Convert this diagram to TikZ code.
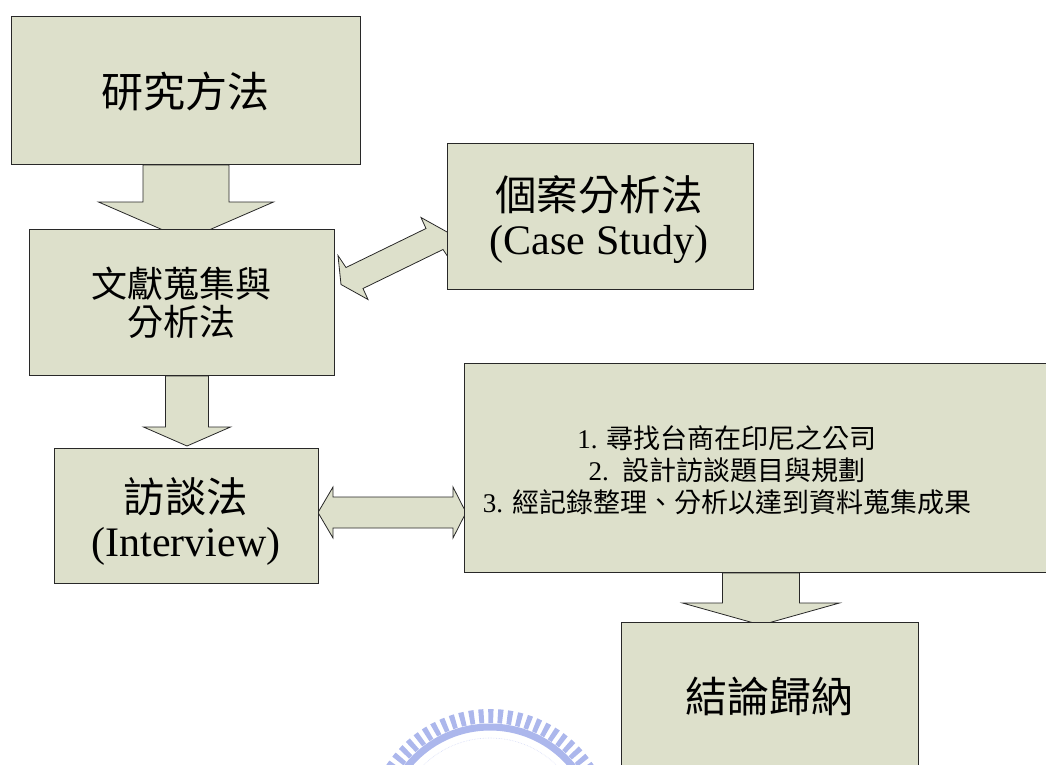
\documentclass[tikz,border=0pt]{standalone}
\usepackage{fontspec}
\setmainfont{Liberation Serif}
\newfontfamily\cjk{Noto Sans CJK TC}
\usetikzlibrary{calc}
\definecolor{boxfill}{RGB}{221,224,203}
\definecolor{boxline}{RGB}{40,40,40}
\definecolor{wmark}{RGB}{172,183,236}
\tikzset{
  box/.style={draw=boxline, fill=boxfill, line width=1pt, rectangle, inner sep=0pt, anchor=north west},
  blockarrow/.style={draw=boxline, fill=boxfill, line width=0.8pt, line join=miter},
  lbl/.style={align=center, inner sep=0pt, text=black},
  big/.style={font=\fontsize{42}{44}\selectfont}
}
\begin{document}
\begin{tikzpicture}[x=1pt,y=-1pt]
\useasboundingbox (0,0) rectangle (1046,765);
\clip (0,0) rectangle (1046,765);

% faint watermark
\draw[wmark, line width=7pt] (490,833) circle (106pt);
\draw[wmark, line width=14pt, dash pattern=on 5pt off 4.5pt] (490,833) circle (117pt);
\draw[wmark!50, line width=0.6pt, densely dotted] (490,833) circle (95pt);

% coordinates of boxes
\coordinate (p1) at (11,16);
\coordinate (p2) at (29,229);
\coordinate (p3) at (447,143);
\coordinate (p4) at (54,448);
\coordinate (p5) at (464,363);
\coordinate (p6) at (621,622);

% invisible nodes first to have anchors for arrows
\path (p1) node[box, draw=none, fill=none, minimum width=349pt, minimum height=148pt] (b1) {};
\path (p2) node[box, draw=none, fill=none, minimum width=305pt, minimum height=146pt] (b2) {};
\path (p3) node[box, draw=none, fill=none, minimum width=306pt, minimum height=146pt] (b3) {};
\path (p4) node[box, draw=none, fill=none, minimum width=264pt, minimum height=135pt] (b4) {};
\path (p5) node[box, draw=none, fill=none, minimum width=593pt, minimum height=209pt] (b5) {};
\path (p6) node[box, draw=none, fill=none, minimum width=297pt, minimum height=160pt] (b6) {};

% block arrows (drawn below boxes)
\draw[blockarrow, shift={(b1.south)}]
  (-43,0) -- (-43,37) -- (-87.5,37) -- (0,75) -- (87.5,37) -- (43,37) -- (43,0) -- cycle;
\draw[blockarrow, shift={($(b2.south)+(5,0)$)}]
  (-21.5,0) -- (-21.5,51) -- (-43.5,51) -- (0,70) -- (43.5,51) -- (21.5,51) -- (21.5,0) -- cycle;
\draw[blockarrow, shift={(b5.south)}]
  (-38.5,0) -- (-38.5,30) -- (-78.5,30) -- (0,52) -- (78.5,30) -- (38.5,30) -- (38.5,0) -- cycle;
\draw[blockarrow, shift={($(b4.east)+(0,-3.5)$)}]
  (-1,0) -- (14,-25.5) -- (14,-15.5) -- (134,-15.5) -- (134,-25.5) -- (147,0)
  -- (134,25.5) -- (134,15.5) -- (14,15.5) -- (14,25.5) -- cycle;
\draw[blockarrow, shift={($(b2.east)+(59.5,-44)$)}]
  (-53.5,26) -- (-56.5,-3) -- (-48.5,9) -- (31.5,-30) -- (26.5,-41) -- (53.5,-26)
  -- (56.5,3) -- (48.5,-9) -- (-31.5,30) -- (-26.5,41) -- cycle;

% visible boxes
\node[box, minimum width=349pt, minimum height=148pt] (v1) at (p1) {};
\node[box, minimum width=305pt, minimum height=146pt] (v2) at (p2) {};
\node[box, minimum width=306pt, minimum height=146pt] (v3) at (p3) {};
\node[box, minimum width=264pt, minimum height=135pt] (v4) at (p4) {};
\node[box, minimum width=593pt, minimum height=209pt] (v5) at (p5) {};
\node[box, minimum width=297pt, minimum height=160pt] (v6) at (p6) {};

% texts
\node[lbl, big] (t1) at (185.5,91) {{\cjk 研究方法}};
\node[lbl, font=\fontsize{36}{38}\selectfont] (t2) at (181.5,303) {{\cjk 文獻蒐集與}\\{\cjk 分析法}};
\node[lbl, big] (t3) at (599,220) {{\cjk\fontsize{41.5}{44}\selectfont 個案分析法}\\(Case Study)};
\node[lbl, big] (t4) at (186,521) {{\cjk\fontsize{41.5}{44}\selectfont 訪談法}\\(Interview)};
\node[lbl, font=\fontsize{27}{32}\selectfont] (t5) at (727,470)
  {1. {\cjk 尋找台商在印尼之公司}\\2.~~{\cjk 設計訪談題目與規劃}\\3. {\cjk 經記錄整理、分析以達到資料蒐集成果}};
\node[lbl, big] (t6) at (769.5,697) {{\cjk 結論歸納}};
\end{tikzpicture}
\end{document}
